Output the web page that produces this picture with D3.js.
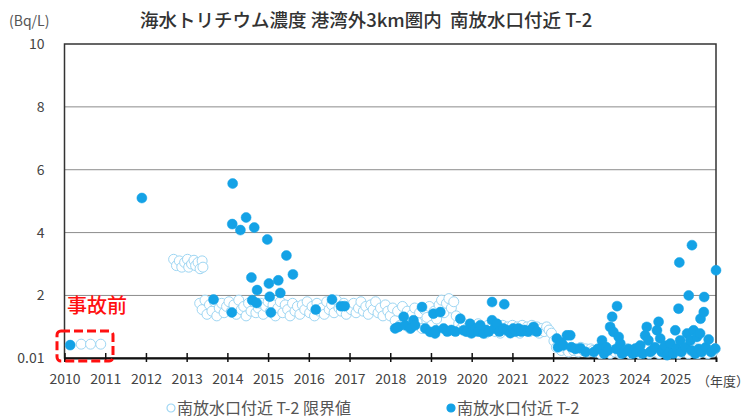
<!DOCTYPE html>
<html>
  <head>
    <meta charset="utf-8">
    <script src="https://d3js.org/d3.v7.min.js"></script>
    <style>
      body { margin: 0; background: #fff; }
      text { font-family: "Noto Sans CJK JP", "Noto Sans", sans-serif; white-space: pre; }
    </style>
  </head>
  <body>
    <div id="chart"></div>
  <script>
    // fiscal year position, Bq/L
    var preAccident = [[2010.41,0.45],[2010.64,0.45],[2010.89,0.45]];
    var preAccidentDetected = [[2010.14,0.42]];

    var limit2012 = [[2012.68,3.15],[2012.75,2.95],[2012.82,3.1],[2012.88,2.9],[2012.95,3.05],[2013.02,3.15],[2013.05,2.9],
      [2013.12,3.0],[2013.18,3.12],[2013.22,2.95],[2013.28,3.05],[2013.33,2.85],[2013.38,3.1],[2013.4,2.9]];

    var limit2013 = [[2013.32,1.75],[2013.38,1.55],[2013.45,1.85],[2013.5,1.4],[2013.56,1.7],[2013.62,1.5],[2013.68,1.8],[2013.74,1.35],
      [2013.8,1.6],[2013.86,1.75],[2013.92,1.45],[2013.98,1.65],[2014.04,1.8],[2014.1,1.5],[2014.16,1.7],[2014.22,1.4],[2014.28,1.85],
      [2014.34,1.55],[2014.4,1.65],[2014.46,1.35],[2014.52,1.75],[2014.58,1.5],[2014.64,1.8],[2014.7,1.45],[2014.76,1.6],[2014.82,1.75],
      [2014.88,1.4],[2014.94,1.65],[2015.0,1.8],[2015.06,1.5],[2015.12,1.7],[2015.18,1.35],[2015.24,1.6],[2015.3,1.8],[2015.36,1.45],
      [2015.42,1.7],[2015.48,1.55],[2015.54,1.35],[2015.6,1.75],[2015.66,1.5],[2015.72,1.65],[2015.78,1.4],[2015.84,1.7],[2015.9,1.55],
      [2015.96,1.8],[2016.02,1.45],[2016.08,1.65],[2016.14,1.35],[2016.2,1.75],[2016.26,1.5],[2016.32,1.6],[2016.38,1.4],[2016.44,1.8],
      [2016.5,1.55],[2016.56,1.7],[2016.62,1.45],[2016.68,1.85],[2016.74,1.6],[2016.8,1.5],[2016.86,1.75],[2016.92,1.4],[2016.98,1.65],
      [2017.04,1.55],[2017.1,1.75],[2017.16,1.45],[2017.22,1.6],[2017.28,1.8],[2017.34,1.5],[2017.4,1.65],[2017.46,1.4],[2017.52,1.7],
      [2017.58,1.55],[2017.64,1.8],[2017.7,1.45],[2017.76,1.6],[2017.82,1.35],[2017.88,1.7],[2017.94,1.5]];

    var limit2018 = [[2018.0,1.35],[2018.06,1.6],[2018.12,1.2],[2018.18,1.5],[2018.24,1.05],[2018.3,1.65],[2018.36,1.25],[2018.42,1.5],
      [2018.48,0.95],[2018.54,1.4],[2018.6,1.6],[2018.66,1.15],[2018.72,1.45],[2018.78,0.95],[2018.84,1.55],[2018.9,1.3],[2018.96,1.65],
      [2019.02,1.05],[2019.08,1.5],[2019.14,1.25],[2019.2,1.7],[2019.26,1.85],[2019.32,1.45],[2019.38,1.75],[2019.44,1.9],[2019.5,1.6],
      [2019.56,1.8],[2019.62,1.35],[2019.68,1.1],[2019.74,0.95],[2019.8,1.1],[2019.86,0.85],[2019.92,1.0],[2019.98,0.8],[2020.04,1.05],
      [2020.1,0.9],[2020.16,1.1],[2020.22,0.85],[2020.28,1.0],[2020.34,0.8],[2020.4,1.05],[2020.46,0.9],[2020.52,1.1],[2020.58,0.85],
      [2020.64,1.0],[2020.7,0.8],[2020.76,1.05],[2020.82,0.9],[2020.88,1.0],[2020.94,0.85],[2021.0,1.05],[2021.06,0.9],[2021.12,1.0],
      [2021.18,0.8],[2021.24,1.05],[2021.3,0.9],[2021.36,1.0],[2021.42,0.85],[2021.48,1.05],[2021.54,0.9],[2021.6,1.0],[2021.66,0.8],
      [2021.72,0.95],[2021.78,0.85],[2021.84,1.0],[2021.9,0.9],[2021.96,0.8]];

    var limit2022 = [[2022.02,0.55],[2022.08,0.35],[2022.14,0.45],[2022.2,0.25],[2022.26,0.4],[2022.32,0.3],[2022.38,0.2],[2022.44,0.35],
      [2022.5,0.25],[2022.56,0.3],[2022.62,0.2],[2022.68,0.35],[2022.74,0.25],[2022.8,0.3],[2022.86,0.2],[2022.92,0.3],[2022.98,0.25],
      [2023.04,0.2],[2023.1,0.3],[2023.16,0.15],[2023.22,0.25],[2023.28,0.2],[2023.34,0.3],[2023.4,0.15],[2023.46,0.25],[2023.52,0.2],
      [2023.58,0.3],[2023.64,0.15],[2023.7,0.25],[2023.76,0.2],[2023.82,0.3],[2023.88,0.15],[2023.94,0.25],[2024.0,0.2],[2024.06,0.3],
      [2024.12,0.15],[2024.18,0.25],[2024.24,0.2],[2024.3,0.3],[2024.36,0.15],[2024.42,0.25],[2024.48,0.2],[2024.54,0.3],[2024.6,0.15],
      [2024.66,0.25],[2024.72,0.2],[2024.78,0.3],[2024.84,0.15],[2024.9,0.25],[2024.96,0.2],[2025.02,0.3],[2025.08,0.15],[2025.14,0.25],
      [2025.2,0.2],[2025.26,0.3],[2025.32,0.15],[2025.38,0.25],[2025.44,0.2],[2025.5,0.3],[2025.56,0.15],[2025.62,0.25],[2025.68,0.2],
      [2025.74,0.3],[2025.8,0.15],[2025.86,0.25],[2025.92,0.2],[2025.98,0.3]];

    var detected2011 = [[2011.9,5.1],[2013.66,1.87],[2014.11,1.46],[2014.12,4.27],[2014.13,5.56],[2014.32,4.08],[2014.46,4.48],
      [2014.59,2.57],[2014.61,1.85],[2014.66,4.16],[2014.72,1.76],[2014.73,2.17],[2014.98,3.78],[2015.02,2.38],[2015.04,1.96],
      [2015.07,1.46],[2015.25,2.48],[2015.3,2.08],[2015.45,3.27],[2015.61,2.67],[2016.17,1.55],[2016.57,1.87],[2016.79,1.66],[2016.88,1.66]];

    var detected2018 = [[2018.12,0.95],[2018.2,1.0],[2018.33,1.32],[2018.37,1.05],[2018.5,0.95],[2018.57,1.21],[2018.61,1.05],
      [2018.78,1.63],[2018.86,0.95],[2018.98,0.84],[2019.06,1.42],[2019.1,0.79],[2019.12,0.89],[2019.23,1.47],[2019.31,0.95],
      [2019.4,0.85],[2019.5,0.9],[2019.6,0.85],[2019.72,1.26],[2019.8,0.89],[2019.88,0.85],[2019.96,1.1],[2020.0,0.8],[2020.04,0.89],
      [2020.1,0.95],[2020.16,0.85],[2020.21,1.05],[2020.29,0.79],[2020.35,0.9],[2020.42,0.85],[2020.5,1.79],[2020.5,1.21],[2020.56,0.95],
      [2020.62,1.1],[2020.68,0.85],[2020.78,0.95],[2020.8,1.72],[2020.87,0.89],[2020.95,0.8],[2021.02,0.95],[2021.08,0.85],[2021.15,0.95],
      [2021.22,0.85],[2021.3,0.9],[2021.38,0.85],[2021.45,0.9],[2021.52,1.0],[2021.6,0.85]];

    var detected2022 = [[2022.09,0.63],[2022.12,0.35],[2022.2,0.5],[2022.25,0.41],[2022.34,0.73],[2022.42,0.73],[2022.45,0.35],
      [2022.55,0.3],[2022.67,0.32],[2022.8,0.2],[2023.0,0.2],[2023.1,0.3],[2023.16,0.32],[2023.2,0.57],[2023.25,0.15],[2023.3,0.36],
      [2023.35,0.25],[2023.4,1.0],[2023.45,1.32],[2023.48,0.84],[2023.55,0.3],[2023.57,1.66],[2023.61,0.68],[2023.65,0.47],[2023.69,0.15],
      [2023.75,0.2],[2023.85,0.3],[2023.95,0.15],[2024.02,0.31],[2024.05,0.2],[2024.14,0.41],[2024.2,0.15],[2024.26,0.73],[2024.3,1.0],
      [2024.34,0.57],[2024.38,0.2],[2024.43,0.25],[2024.5,0.35],[2024.55,0.89],[2024.59,1.16],[2024.63,0.63],[2024.67,0.2],[2024.71,0.31],
      [2024.75,0.4],[2024.8,0.1],[2024.85,0.2],[2024.88,0.47],[2024.95,0.15],[2025.0,0.89],[2025.04,0.31],[2025.08,1.58],[2025.1,3.05],
      [2025.12,0.57],[2025.15,0.2],[2025.25,0.35],[2025.29,0.79],[2025.33,2.0],[2025.37,0.57],[2025.41,3.6],[2025.4,0.25],[2025.45,0.89],
      [2025.49,0.15],[2025.53,0.68],[2025.58,0.3],[2025.61,0.79],[2025.62,1.26],[2025.65,0.2],[2025.7,1.47],[2025.71,1.95],[2025.75,0.35],
      [2025.82,0.6],[2025.88,0.2],[2025.98,0.31],[2026.0,2.8]];

    var years = d3.range(2010, 2026);
    var yTicks = [0.01, 2, 4, 6, 8, 10];

    var limitPoints = preAccident.concat(limit2012, limit2013, limit2018, limit2022);
    var detectedPoints = preAccidentDetected.concat(detected2011, detected2018, detected2022);

    var width = 752, height = 419;
    var lightBlue = '#9ed6f3', blue = '#14a2e6';

    var svg = d3.select("#chart").append("svg")
        .attr("width", width)
        .attr("height", height);

    var x = d3.scaleLinear().domain([2010, 2026]).range([64.5, 716]);
    var y = d3.scaleLinear().domain([0.01, 10]).range([358, 44]);

    // grid lines
    svg.append("g")
        .selectAll("line")
        .data(yTicks.filter(function(d) { return d > 1 && d < 10; }))
        .enter()
        .append("line")
        .attr("x1", x(2010)).attr("x2", x(2026))
        .attr("y1", function(d) { return y(d); })
        .attr("y2", function(d) { return y(d); })
        .attr("stroke", "#8c8c8c")
        .attr("stroke-width", 1);

    // frame
    svg.append("rect")
        .attr("x", x(2010)).attr("y", y(10))
        .attr("width", x(2026) - x(2010))
        .attr("height", y(0.01) - y(10))
        .attr("fill", "none")
        .attr("stroke", "#333")
        .attr("stroke-width", 1.5);

    // y axis labels
    svg.append("g")
        .attr("transform", "translate(" + x(2010) + ",0)")
        .call(d3.axisLeft(y).tickValues(yTicks).tickSize(0).tickPadding(20)
          .tickFormat(function(d) { return d === 0.01 ? "0.01" : d; }))
        .call(function(g) { g.select(".domain").remove(); })
        .call(function(g) {
          g.selectAll("text").attr("fill", "#444").style("font-size", "14px");
        });

    // x axis
    svg.append("g")
        .attr("transform", "translate(0," + y(0.01) + ")")
        .call(d3.axisBottom(x).tickValues(years).tickSize(4).tickPadding(12).tickFormat(d3.format("d")))
        .call(function(g) {
          g.select(".domain").attr("stroke", "#111").attr("stroke-width", 2);
          g.selectAll(".tick line").attr("y1", -5).attr("y2", 4).attr("stroke", "#111").attr("stroke-width", 1.5);
          g.selectAll("text").attr("fill", "#444").style("font-size", "14px");
        });

    svg.append("text")
        .attr("x", 697).attr("y", 386)
        .attr("fill", "#444")
        .style("font-size", "13px")
        .text("（年度）");

    // points: limit values first, detected on top
    svg.append("g")
        .selectAll("circle")
        .data(limitPoints)
        .enter()
        .append("circle")
        .attr("cx", function(d) { return x(d[0]); })
        .attr("cy", function(d) { return y(d[1]); })
        .attr("r", 5)
        .attr("fill", "#fff")
        .attr("stroke", lightBlue)
        .attr("stroke-width", 1);

    svg.append("g")
        .selectAll("circle")
        .data(detectedPoints)
        .enter()
        .append("circle")
        .attr("cx", function(d) { return x(d[0]); })
        .attr("cy", function(d) { return y(d[1]); })
        .attr("r", 5)
        .attr("fill", blue)
        .attr("stroke", blue)
        .attr("stroke-width", 0.5);

    // pre-accident marker
    svg.append("rect")
        .attr("x", 57).attr("y", 331)
        .attr("width", 56).attr("height", 30)
        .attr("rx", 4)
        .attr("fill", "none")
        .attr("stroke", "#ff1010")
        .attr("stroke-width", 3)
        .attr("stroke-dasharray", "9,4");

    svg.append("text")
        .attr("x", 67).attr("y", 313)
        .attr("fill", "#ff1010")
        .style("font-size", "20px")
        .style("font-weight", "500")
        .text("事故前");

    // titles
    svg.append("text")
        .attr("x", 140).attr("y", 27)
        .attr("fill", "#333")
        .style("font-size", "18.5px")
        .style("font-weight", "500")
        .text("海水トリチウム濃度 港湾外3km圏内  南放水口付近 T-2");

    svg.append("text")
        .attr("x", 9).attr("y", 26)
        .attr("fill", "#555")
        .style("font-size", "14px")
        .text("(Bq/L)");

    // legend
    var legendItems = [
      {label: "南放水口付近 T-2 限界値", fill: "#fff", stroke: lightBlue, lx: 171},
      {label: "南放水口付近 T-2", fill: blue, stroke: blue, lx: 451}
    ];

    var legend = svg.append("g")
        .selectAll("g")
        .data(legendItems)
        .enter()
        .append("g")
        .attr("transform", function(d) { return "translate(" + d.lx + ",408)"; });

    legend.append("circle")
        .attr("r", 4)
        .attr("fill", function(d) { return d.fill; })
        .attr("stroke", function(d) { return d.stroke; })
        .attr("stroke-width", 1.2);

    legend.append("text")
        .attr("x", 6).attr("y", 5.5)
        .attr("fill", "#555")
        .style("font-size", "16px")
        .text(function(d) { return d.label; });
  </script>
  </body>
</html>
